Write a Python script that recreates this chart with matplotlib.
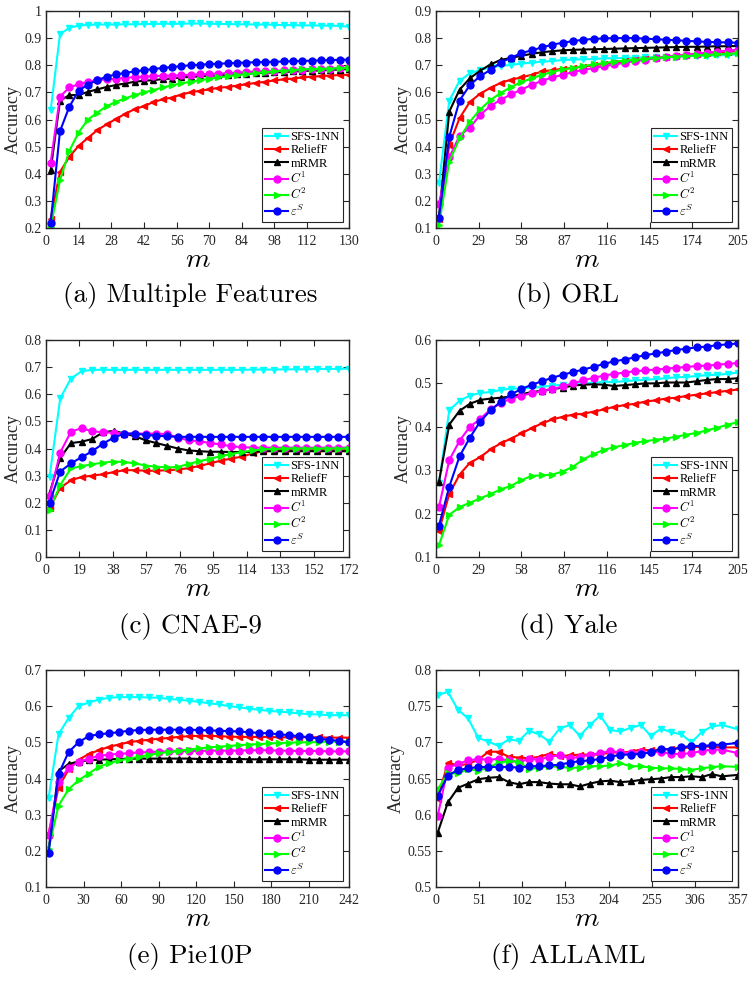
import numpy as np
import matplotlib
matplotlib.use("Agg")
import matplotlib.pyplot as plt
from matplotlib.ticker import FuncFormatter

plt.rcParams['font.family'] = ['Liberation Serif', 'DejaVu Serif']
plt.rcParams['mathtext.fontset'] = 'cm'

labels = ['SFS-1NN', 'ReliefF', 'mRMR', r'$C^1$', r'$C^2$', r'$\varepsilon^S$']
colors = ['#00FFFF', '#FF0000', '#000000', '#FF00FF', '#00FF00', '#0000FF']
markers = ['v', '<', '^', 'o', '>', 'o']

# ---------------- (a) Multiple Features ----------------
m_a = np.arange(2, 131, 4)
a_sfs = [0.634, 0.914, 0.938, 0.946, 0.949, 0.950, 0.950, 0.950, 0.951, 0.951, 0.952, 0.952, 0.953, 0.953, 0.953,
         0.954, 0.954, 0.953, 0.952, 0.952, 0.951, 0.951, 0.950, 0.950, 0.949, 0.948, 0.948, 0.947, 0.947, 0.946,
         0.946, 0.945, 0.942]
a_rel = [0.235, 0.407, 0.462, 0.503, 0.532, 0.561, 0.582, 0.602, 0.621, 0.638, 0.649, 0.664, 0.674, 0.681, 0.692,
         0.700, 0.706, 0.711, 0.717, 0.720, 0.725, 0.730, 0.735, 0.739, 0.744, 0.748, 0.751, 0.755, 0.758, 0.760,
         0.762, 0.764, 0.765]
a_mrmr = [0.413, 0.669, 0.690, 0.690, 0.702, 0.711, 0.720, 0.727, 0.733, 0.739, 0.743, 0.745, 0.749, 0.751, 0.755,
          0.757, 0.759, 0.761, 0.763, 0.765, 0.767, 0.769, 0.771, 0.772, 0.774, 0.775, 0.777, 0.778, 0.780, 0.781,
          0.783, 0.784, 0.786]
a_c1 = [0.441, 0.684, 0.718, 0.730, 0.739, 0.745, 0.748, 0.750, 0.754, 0.756, 0.758, 0.760, 0.761, 0.762, 0.763,
        0.765, 0.766, 0.768, 0.769, 0.771, 0.773, 0.775, 0.777, 0.778, 0.779, 0.781, 0.783, 0.784, 0.785, 0.787,
        0.788, 0.790, 0.792]
a_c2 = [0.204, 0.376, 0.484, 0.552, 0.600, 0.625, 0.649, 0.665, 0.678, 0.690, 0.700, 0.708, 0.718, 0.726, 0.733,
        0.739, 0.745, 0.750, 0.755, 0.760, 0.764, 0.767, 0.771, 0.775, 0.777, 0.780, 0.782, 0.785, 0.786, 0.787,
        0.788, 0.789, 0.790]
a_es = [0.220, 0.557, 0.647, 0.706, 0.729, 0.745, 0.758, 0.766, 0.772, 0.777, 0.782, 0.786, 0.790, 0.793, 0.797,
        0.800, 0.802, 0.804, 0.806, 0.807, 0.809, 0.810, 0.811, 0.812, 0.813, 0.814, 0.815, 0.816, 0.817, 0.818,
        0.819, 0.820, 0.821]

# ---------------- (b) ORL ----------------
m_b = np.arange(2, 206, 7)
b_sfs = [0.265, 0.569, 0.643, 0.670, 0.683, 0.692, 0.698, 0.701, 0.706, 0.710, 0.713, 0.716, 0.719, 0.721, 0.722,
         0.723, 0.725, 0.726, 0.727, 0.728, 0.729, 0.730, 0.731, 0.732, 0.733, 0.734, 0.735, 0.736, 0.738, 0.740]
b_rel = [0.135, 0.407, 0.505, 0.565, 0.595, 0.617, 0.635, 0.647, 0.655, 0.665, 0.677, 0.682, 0.687, 0.690, 0.695,
         0.700, 0.705, 0.710, 0.714, 0.718, 0.722, 0.726, 0.730, 0.734, 0.738, 0.742, 0.745, 0.748, 0.750, 0.752]
b_mrmr = [0.140, 0.529, 0.610, 0.652, 0.680, 0.703, 0.720, 0.727, 0.735, 0.742, 0.748, 0.752, 0.755, 0.757, 0.758,
          0.759, 0.760, 0.761, 0.762, 0.763, 0.764, 0.765, 0.766, 0.767, 0.768, 0.768, 0.769, 0.770, 0.770, 0.771]
b_c1 = [0.190, 0.360, 0.440, 0.470, 0.517, 0.550, 0.573, 0.593, 0.610, 0.628, 0.643, 0.655, 0.665, 0.675, 0.683,
        0.690, 0.697, 0.703, 0.709, 0.715, 0.720, 0.725, 0.730, 0.734, 0.738, 0.742, 0.746, 0.750, 0.754, 0.758]
b_c2 = [0.110, 0.345, 0.430, 0.492, 0.537, 0.572, 0.598, 0.620, 0.638, 0.652, 0.665, 0.675, 0.685, 0.690, 0.697,
        0.703, 0.708, 0.713, 0.717, 0.720, 0.724, 0.727, 0.729, 0.732, 0.734, 0.736, 0.738, 0.740, 0.742, 0.744]
b_es = [0.138, 0.436, 0.570, 0.627, 0.660, 0.683, 0.710, 0.728, 0.745, 0.755, 0.766, 0.776, 0.783, 0.789, 0.794,
        0.797, 0.799, 0.800, 0.800, 0.800, 0.798, 0.796, 0.794, 0.792, 0.790, 0.788, 0.786, 0.785, 0.784, 0.783]

# ---------------- (c) CNAE-9 ----------------
m_c = np.linspace(2, 172, 29)
c_sfs = [0.295, 0.585, 0.658, 0.685, 0.690, 0.690, 0.690, 0.690, 0.690, 0.690, 0.690, 0.690, 0.690, 0.690, 0.690,
         0.690, 0.690, 0.690, 0.690, 0.691, 0.691, 0.691, 0.692, 0.692, 0.692, 0.693, 0.693, 0.694, 0.694]
c_rel = [0.180, 0.255, 0.283, 0.295, 0.300, 0.305, 0.313, 0.320, 0.320, 0.318, 0.318, 0.320, 0.322, 0.328, 0.335,
         0.345, 0.355, 0.363, 0.370, 0.382, 0.390, 0.393, 0.395, 0.395, 0.395, 0.395, 0.395, 0.395, 0.395]
c_mrmr = [0.235, 0.365, 0.420, 0.425, 0.435, 0.460, 0.465, 0.455, 0.445, 0.430, 0.420, 0.410, 0.400, 0.393, 0.390,
          0.388, 0.388, 0.387, 0.387, 0.388, 0.390, 0.390, 0.390, 0.390, 0.390, 0.390, 0.390, 0.390, 0.390]
c_c1 = [0.225, 0.385, 0.462, 0.475, 0.463, 0.460, 0.458, 0.455, 0.455, 0.455, 0.455, 0.453, 0.440, 0.430, 0.427,
        0.420, 0.415, 0.408, 0.405, 0.403, 0.403, 0.403, 0.403, 0.403, 0.403, 0.403, 0.403, 0.403, 0.403]
c_c2 = [0.175, 0.265, 0.327, 0.335, 0.342, 0.348, 0.352, 0.350, 0.345, 0.337, 0.333, 0.330, 0.332, 0.343, 0.353,
        0.362, 0.372, 0.380, 0.387, 0.393, 0.397, 0.398, 0.400, 0.400, 0.400, 0.400, 0.400, 0.400, 0.400]
c_es = [0.200, 0.315, 0.345, 0.368, 0.390, 0.418, 0.440, 0.455, 0.455, 0.450, 0.447, 0.445, 0.443, 0.443, 0.443,
        0.443, 0.443, 0.443, 0.443, 0.443, 0.443, 0.443, 0.443, 0.443, 0.443, 0.443, 0.443, 0.443, 0.443]

# ---------------- (d) Yale ----------------
m_d = np.arange(2, 206, 7)
d_sfs = [0.270, 0.438, 0.460, 0.472, 0.478, 0.480, 0.485, 0.488, 0.488, 0.490, 0.492, 0.495, 0.497, 0.497, 0.500,
         0.502, 0.503, 0.503, 0.505, 0.507, 0.508, 0.510, 0.512, 0.514, 0.515, 0.517, 0.519, 0.520, 0.522, 0.525]
d_rel = [0.160, 0.245, 0.290, 0.317, 0.330, 0.348, 0.362, 0.373, 0.385, 0.397, 0.408, 0.417, 0.423, 0.428, 0.430,
         0.435, 0.440, 0.446, 0.450, 0.453, 0.458, 0.461, 0.465, 0.467, 0.471, 0.474, 0.477, 0.480, 0.483, 0.486]
d_mrmr = [0.273, 0.405, 0.437, 0.453, 0.462, 0.465, 0.467, 0.470, 0.475, 0.480, 0.483, 0.487, 0.490, 0.495, 0.497,
          0.498, 0.497, 0.494, 0.496, 0.498, 0.500, 0.500, 0.502, 0.502, 0.502, 0.505, 0.508, 0.510, 0.510, 0.512]
d_c1 = [0.215, 0.323, 0.368, 0.400, 0.418, 0.440, 0.455, 0.465, 0.472, 0.477, 0.482, 0.487, 0.493, 0.500, 0.507,
        0.513, 0.518, 0.522, 0.525, 0.528, 0.530, 0.532, 0.534, 0.536, 0.538, 0.540, 0.541, 0.543, 0.545, 0.547]
d_c2 = [0.127, 0.197, 0.215, 0.225, 0.235, 0.245, 0.256, 0.264, 0.277, 0.287, 0.288, 0.290, 0.297, 0.308, 0.325,
        0.337, 0.347, 0.353, 0.358, 0.363, 0.367, 0.370, 0.373, 0.377, 0.382, 0.386, 0.392, 0.398, 0.405, 0.411]
d_es = [0.172, 0.262, 0.332, 0.375, 0.412, 0.438, 0.458, 0.475, 0.487, 0.497, 0.505, 0.513, 0.520, 0.526, 0.532,
        0.538, 0.545, 0.551, 0.555, 0.560, 0.565, 0.569, 0.573, 0.577, 0.580, 0.583, 0.585, 0.588, 0.590, 0.592]

# ---------------- (e) Pie10P ----------------
m_e = np.arange(2, 243, 8)
e_sfs = [0.345, 0.522, 0.567, 0.600, 0.610, 0.618, 0.623, 0.625, 0.625, 0.625, 0.624, 0.623, 0.620, 0.618, 0.615,
         0.612, 0.608, 0.605, 0.600, 0.597, 0.593, 0.590, 0.587, 0.585, 0.583, 0.580, 0.578, 0.577, 0.575, 0.575,
         0.575]
e_rel = [0.245, 0.375, 0.425, 0.452, 0.467, 0.478, 0.487, 0.494, 0.500, 0.504, 0.507, 0.510, 0.512, 0.515, 0.517,
         0.518, 0.518, 0.517, 0.516, 0.515, 0.515, 0.515, 0.515, 0.514, 0.514, 0.514, 0.514, 0.514, 0.513, 0.513,
         0.513]
e_mrmr = [0.200, 0.420, 0.440, 0.447, 0.450, 0.452, 0.453, 0.454, 0.455, 0.455, 0.455, 0.455, 0.455, 0.455, 0.455,
          0.454, 0.454, 0.454, 0.454, 0.454, 0.453, 0.453, 0.453, 0.453, 0.453, 0.453, 0.452, 0.452, 0.452, 0.452,
          0.452]
e_c1 = [0.245, 0.390, 0.430, 0.445, 0.455, 0.462, 0.466, 0.468, 0.470, 0.472, 0.473, 0.474, 0.475, 0.475, 0.476,
        0.476, 0.477, 0.477, 0.477, 0.477, 0.478, 0.478, 0.478, 0.477, 0.477, 0.476, 0.476, 0.476, 0.475, 0.475,
        0.475]
e_c2 = [0.205, 0.325, 0.370, 0.395, 0.413, 0.432, 0.442, 0.450, 0.455, 0.460, 0.465, 0.470, 0.473, 0.477, 0.480,
        0.483, 0.486, 0.488, 0.490, 0.492, 0.494, 0.495, 0.497, 0.498, 0.499, 0.500, 0.500, 0.501, 0.502, 0.502,
        0.502]
e_es = [0.193, 0.412, 0.473, 0.500, 0.517, 0.522, 0.525, 0.528, 0.532, 0.534, 0.535, 0.535, 0.535, 0.535, 0.535,
        0.534, 0.533, 0.532, 0.531, 0.530, 0.528, 0.526, 0.525, 0.522, 0.520, 0.517, 0.514, 0.510, 0.507, 0.504,
        0.500]

# ---------------- (f) ALLAML ----------------
m_f = np.append(np.arange(2, 340, 12), 357)
f_sfs = [0.765, 0.770, 0.745, 0.733, 0.706, 0.701, 0.695, 0.704, 0.702, 0.716, 0.711, 0.701, 0.719, 0.724, 0.709,
         0.724, 0.737, 0.717, 0.715, 0.720, 0.724, 0.709, 0.719, 0.714, 0.711, 0.700, 0.714, 0.722, 0.724, 0.718]
f_rel = [0.622, 0.672, 0.668, 0.670, 0.676, 0.687, 0.687, 0.680, 0.679, 0.678, 0.680, 0.684, 0.681, 0.682, 0.683,
         0.683, 0.683, 0.686, 0.686, 0.687, 0.690, 0.689, 0.690, 0.691, 0.692, 0.693, 0.694, 0.694, 0.693, 0.693]
f_mrmr = [0.575, 0.617, 0.637, 0.643, 0.649, 0.651, 0.652, 0.645, 0.642, 0.645, 0.645, 0.643, 0.642, 0.642, 0.639,
          0.643, 0.646, 0.647, 0.645, 0.646, 0.648, 0.649, 0.650, 0.652, 0.652, 0.653, 0.652, 0.656, 0.653, 0.655]
f_c1 = [0.598, 0.665, 0.670, 0.675, 0.677, 0.676, 0.677, 0.675, 0.673, 0.677, 0.676, 0.680, 0.682, 0.678, 0.680,
        0.683, 0.685, 0.688, 0.686, 0.685, 0.686, 0.686, 0.687, 0.684, 0.684, 0.685, 0.688, 0.690, 0.690, 0.685]
f_c2 = [0.635, 0.657, 0.657, 0.663, 0.661, 0.665, 0.672, 0.674, 0.673, 0.663, 0.665, 0.667, 0.666, 0.665, 0.665,
        0.667, 0.667, 0.668, 0.671, 0.667, 0.667, 0.665, 0.664, 0.664, 0.663, 0.662, 0.664, 0.666, 0.667, 0.666]
f_es = [0.626, 0.654, 0.662, 0.664, 0.666, 0.666, 0.666, 0.666, 0.665, 0.667, 0.667, 0.668, 0.669, 0.672, 0.674,
        0.675, 0.677, 0.680, 0.683, 0.683, 0.684, 0.686, 0.691, 0.690, 0.693, 0.695, 0.695, 0.696, 0.697, 0.699]

panels = [
    dict(m=m_a, ys=[a_sfs, a_rel, a_mrmr, a_c1, a_c2, a_es], xlim=(0, 130), ylim=(0.2, 1.0),
         xt=[0, 14, 28, 42, 56, 70, 84, 98, 112, 130], yt=np.arange(0.2, 1.01, 0.1)),
    dict(m=m_b, ys=[b_sfs, b_rel, b_mrmr, b_c1, b_c2, b_es], xlim=(0, 205), ylim=(0.1, 0.9),
         xt=[0, 29, 58, 87, 116, 145, 174, 205], yt=np.arange(0.1, 0.91, 0.1)),
    dict(m=m_c, ys=[c_sfs, c_rel, c_mrmr, c_c1, c_c2, c_es], xlim=(0, 172), ylim=(0.0, 0.8),
         xt=[0, 19, 38, 57, 76, 95, 114, 133, 152, 172], yt=np.arange(0.0, 0.81, 0.1)),
    dict(m=m_d, ys=[d_sfs, d_rel, d_mrmr, d_c1, d_c2, d_es], xlim=(0, 205), ylim=(0.1, 0.6),
         xt=[0, 29, 58, 87, 116, 145, 174, 205], yt=np.arange(0.1, 0.61, 0.1)),
    dict(m=m_e, ys=[e_sfs, e_rel, e_mrmr, e_c1, e_c2, e_es], xlim=(0, 242), ylim=(0.1, 0.7),
         xt=[0, 30, 60, 90, 120, 150, 180, 210, 242], yt=np.arange(0.1, 0.71, 0.1)),
    dict(m=m_f, ys=[f_sfs, f_rel, f_mrmr, f_c1, f_c2, f_es], xlim=(0, 357), ylim=(0.5, 0.8),
         xt=[0, 51, 102, 153, 204, 255, 306, 357], yt=np.arange(0.5, 0.801, 0.05)),
]

captions = ['(a) Multiple Features', '(b) ORL', '(c) CNAE-9', '(d) Yale', '(e) Pie10P', '(f) ALLAML']

fig = plt.figure(figsize=(7.49, 9.90), dpi=100)
W, H = 749.0, 990.0
lefts = [46, 436]
rights = [349, 738]
tops = [11, 340, 670]
bots = [228, 557, 887]
cap_x = [190, 568]
cap_y = [296, 627, 957]
dark = '#262626'

fmt = FuncFormatter(lambda v, p: ('%g' % round(v, 3)))

for i, p in enumerate(panels):
    r, c = divmod(i, 2)
    ax = fig.add_axes([lefts[c] / W, 1 - bots[r] / H, (rights[c] - lefts[c]) / W, (bots[r] - tops[r]) / H])
    for y, lab, col, mk in zip(p['ys'], labels, colors, markers):
        ax.plot(p['m'], y, color=col, marker=mk, markersize=5, linewidth=1.5, label=lab)
    ax.set_xlim(*p['xlim'])
    ax.set_ylim(*p['ylim'])
    ax.set_xticks(p['xt'])
    ax.set_yticks(p['yt'])
    ax.yaxis.set_major_formatter(fmt)
    ax.tick_params(direction='in', top=True, right=True, labelsize=10, length=4, colors=dark,
                   labelcolor=dark, width=0.8)
    ax.tick_params(axis='y', pad=3)
    ax.tick_params(axis='x', pad=5)
    for s in ax.spines.values():
        s.set_color(dark)
        s.set_linewidth(1.0)
    ax.set_ylabel('Accuracy', fontsize=13, color=dark, labelpad=2)
    ax.set_xlabel(r'$m$', fontsize=20, labelpad=0)
    leg = ax.legend(loc='lower right', fontsize=9, frameon=True, fancybox=False, edgecolor=dark,
                    framealpha=1, handlelength=1.8, handletextpad=0.2, labelspacing=0.1,
                    borderpad=0.25, borderaxespad=0.5)
    leg.get_frame().set_linewidth(0.8)
    fig.text(cap_x[c] / W, 1 - cap_y[r] / H, captions[i], ha='center', va='center', fontsize=19.5,
             family='cmr10')

fig.savefig('out.png', dpi=100)
